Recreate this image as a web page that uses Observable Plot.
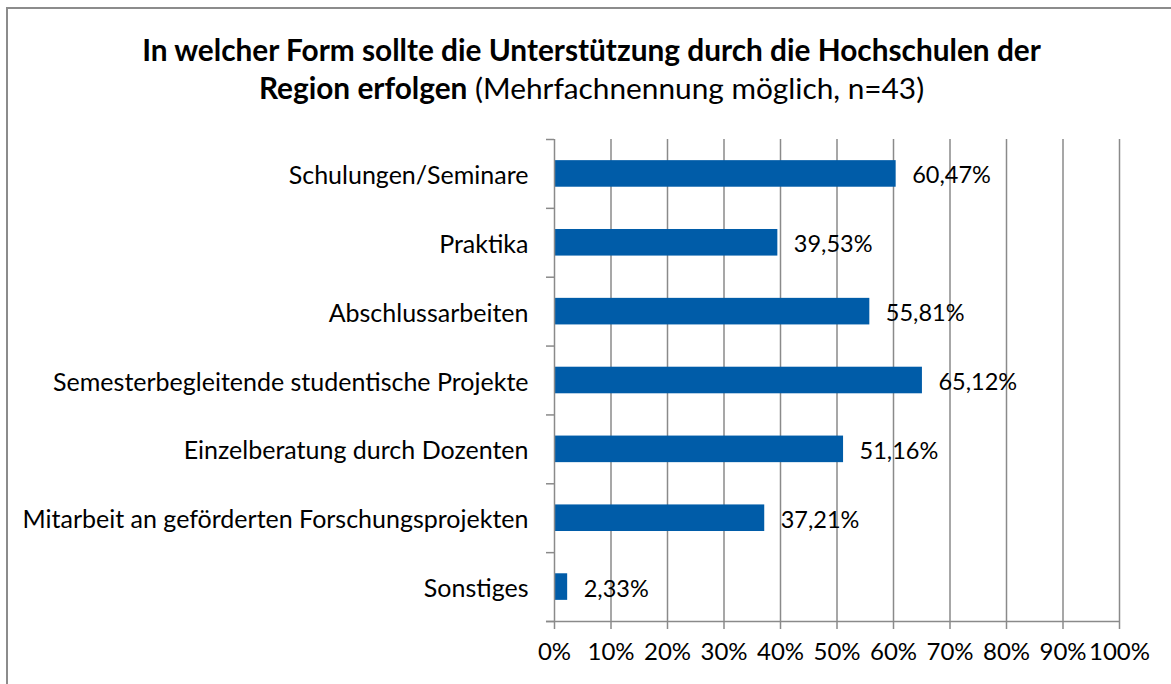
<!DOCTYPE html>
<html>
<head>
<meta charset="utf-8">
<script src="https://cdn.jsdelivr.net/npm/d3@7"></script>
<script src="https://cdn.jsdelivr.net/npm/@observablehq/plot@0.6"></script>
<style>
  html, body { margin: 0; padding: 0; background: #fff; overflow: hidden; width: 1171px; height: 684px; }
  #frame { position: absolute; left: 6px; top: 7px; width: 1200px; height: 720px; border: 2px solid #8c8c8c; box-sizing: border-box; }
  #title { position: absolute; left: 6px; top: 0; width: 1171px; height: 130px; text-align: center; font-family: Lato, "Open Sans", sans-serif; font-size: 29.8px; line-height: 38px; color: #000; padding-top: 31px; box-sizing: border-box; }
  #title b { font-weight: 700; }
  #chart { position: absolute; left: 0; top: 130px; }
  #chart svg { font-family: Lato, "Open Sans", sans-serif; }
</style>
</head>
<body>
<div id="frame"></div>
<div id="title"><b>In welcher Form sollte die Unterstützung durch die Hochschulen der<br>Region erfolgen</b> (Mehrfachnennung möglich, n=43)</div>
<div id="chart"></div>
<script>
const categories = [
  "Schulungen/Seminare",
  "Praktika",
  "Abschlussarbeiten",
  "Semesterbegleitende studentische Projekte",
  "Einzelberatung durch Dozenten",
  "Mitarbeit an geförderten Forschungsprojekten",
  "Sonstiges"
];
const values = [60.47, 39.53, 55.81, 65.12, 51.16, 37.21, 2.33];
const valueLabels = ["60,47%", "39,53%", "55,81%", "65,12%", "51,16%", "37,21%", "2,33%"];
const xTicks = [0, 10, 20, 30, 40, 50, 60, 70, 80, 90, 100];

const data = categories.map((c, i) => ({ i, category: c, value: values[i], label: valueLabels[i] }));
const gap = 0.307;

const chart = Plot.plot({
  width: 1171,
  height: 554,
  marginTop: 9,
  marginBottom: 63,
  marginLeft: 554,
  marginRight: 52,
  style: { fontSize: "24px", color: "#000", background: "transparent" },
  x: { domain: [0, 100], ticks: xTicks, label: null },
  y: { domain: [0, categories.length], reverse: true, label: null },
  marks: [
    Plot.ruleX(xTicks.slice(1), { stroke: "#8a8a8a", strokeWidth: 1.5, strokeOpacity: 1 }),
    Plot.rectX(data, { x1: 0, x2: "value", y1: d => d.i + gap, y2: d => d.i + 1 - gap, fill: "#005ca8" }),
    Plot.text(data, { x: "value", y: d => d.i + 0.5, text: "label", textAnchor: "start", dx: 16, dy: 2, fill: "#000", fontSize: 23.5 }),
    Plot.axisY({ ticks: d3.range(categories.length + 1), tickSize: 8, tickFormat: () => "", stroke: "#8a8a8a", strokeWidth: 1.5, strokeOpacity: 1, label: null }),
    Plot.axisY({ ticks: d3.range(categories.length).map(i => i + 0.5), tickSize: 0, tickPadding: 26, tickFormat: v => categories[Math.floor(v)], fontSize: 25, fill: "#000", dy: 2, label: null }),
    Plot.ruleX([0], { stroke: "#8a8a8a", strokeWidth: 1.5 }),
    Plot.axisX({ ticks: xTicks, tickSize: 8, tickPadding: 13, tickFormat: v => v + "%", stroke: "#8a8a8a", strokeWidth: 1.5, strokeOpacity: 1, fontSize: 24, fill: "#000", label: null }),
    Plot.ruleY([categories.length], { x1: -1.42, x2: 100, stroke: "#8a8a8a", strokeWidth: 1.5, clip: false })
  ]
});
document.getElementById("chart").appendChild(chart);
</script>
</body>
</html>
